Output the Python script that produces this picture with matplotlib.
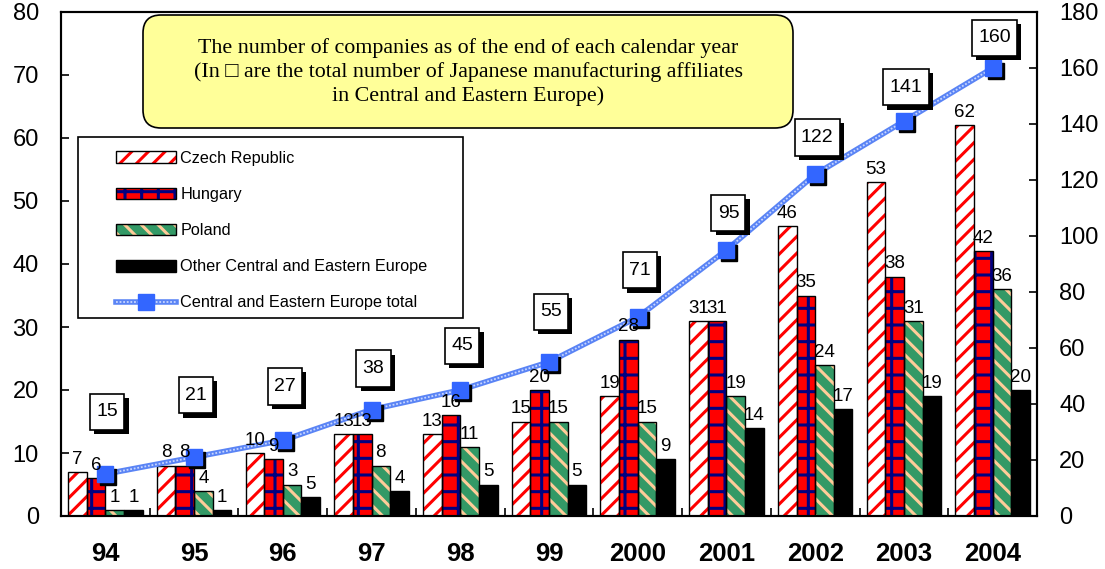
import numpy as np
import matplotlib
matplotlib.use("Agg")
import matplotlib.pyplot as plt
from matplotlib.patches import Patch, FancyBboxPatch, Rectangle
from matplotlib.lines import Line2D
from matplotlib.path import Path
import matplotlib.patheffects as pe
import matplotlib.transforms as mtransforms

# データ（各年末時点の企業数）
years = ["94", "95", "96", "97", "98", "99", "2000", "2001", "2002", "2003", "2004"]
czech = [7, 8, 10, 13, 13, 15, 19, 31, 46, 53, 62]
hungary = [6, 8, 9, 13, 16, 20, 28, 31, 35, 38, 42]
poland = [1, 4, 5, 8, 11, 15, 15, 19, 24, 31, 36]
other = [1, 1, 3, 4, 5, 5, 9, 14, 17, 19, 20]
total = [15, 21, 27, 38, 45, 55, 71, 95, 122, 141, 160]
# 96年は元の図で数値ラベルが入れ替わっている
poland_text = [1, 4, 3, 8, 11, 15, 15, 19, 24, 31, 36]
other_text = [1, 1, 5, 4, 5, 5, 9, 14, 17, 19, 20]

series_names = ["Czech Republic", "Hungary", "Poland",
                "Other Central and Eastern Europe"]
total_name = "Central and Eastern Europe total"
title_lines = ["The number of companies as of the end of each calendar year",
               "(In \u25a1 are the total number of Japanese manufacturing affiliates",
               "in Central and Eastern Europe)"]

# 合計ボックスの位置（マーカーからのずれ、ピクセル）
box_dy = [62, 62, 54, 41, 44, 50, 47, 37, 37, 34, 30]

plt.rcParams["font.family"] = ["Liberation Sans", "DejaVu Sans"]
plt.rcParams["hatch.linewidth"] = 2.2


def tall_box(x0, y0, width, height, mutation_size):
    # 縦長の四角い枠
    px = 0.32 * mutation_size
    py = 0.5 * mutation_size
    return Path([(x0 - px, y0 - py), (x0 + width + px, y0 - py),
                 (x0 + width + px, y0 + height + py), (x0 - px, y0 + height + py),
                 (x0 - px, y0 - py)], closed=True)


W, H = 1105, 569
fig = plt.figure(figsize=(W / 100, H / 100), dpi=100)
ax = fig.add_axes([61 / W, 1 - 516 / H, (1037 - 61) / W, (516 - 12) / H])
ax2 = ax.twinx()

x = np.arange(len(years))
w = 0.21
styles = [
    ("white", "//", "#FF0000"),
    ("#FF0000", "+", "#000080"),
    ("#339966", "\\\\", "#FFCC99"),
    ("black", "", "black"),
]
texts = [czech, hungary, poland_text, other_text]
handles = []
for k, vals in enumerate([czech, hungary, poland, other]):
    face, hatch, hcol = styles[k]
    pos = x + (k - 1.5) * w
    ax.bar(pos, vals, w, color=face, hatch=hatch, edgecolor=hcol, linewidth=0, zorder=2)
    ax.bar(pos, vals, w, facecolor="none", edgecolor="black", linewidth=1.0, zorder=3)
    # 数値ラベルは折れ線より手前に描く
    for px, v, t in zip(pos, vals, texts[k]):
        ax2.annotate(str(t), (px, v), xycoords=ax.transData, xytext=(0, 3),
                     textcoords="offset points", ha="center", va="bottom",
                     fontsize=13.5, zorder=6)
    handles.append((Patch(facecolor=face, hatch=hatch, edgecolor=hcol, linewidth=0),
                    Patch(facecolor="none", edgecolor="black", linewidth=1.0)))

ax.set_xlim(-0.5, 10.5)
ax.set_ylim(0, 80)
ax.set_yticks(range(0, 81, 10))
ax.set_xticks(x)
ax.set_xticklabels(years, fontsize=18.5, fontweight="bold")
ax.set_xticks(np.arange(-0.5, 11, 1), minor=True)
ax.tick_params(axis="x", which="major", length=0, pad=19)
ax.tick_params(axis="x", which="minor", direction="in", length=6, width=1.2)
ax.tick_params(axis="y", direction="in", length=6, width=1.2, labelsize=17, pad=16)
for s in ax.spines.values():
    s.set_linewidth(1.5)

ax2.set_ylim(0, 180)
ax2.set_yticks(range(0, 181, 20))
ax2.tick_params(axis="y", direction="in", length=6, width=1.2, labelsize=17, pad=16)
for s in ax2.spines.values():
    s.set_linewidth(1.5)

# 合計の折れ線（影付きマーカー）
ax2.plot(x, total, color="#5A84F5", lw=4.0, zorder=3, solid_capstyle="butt")
ax2.plot(x, total, color="#C8D6FF", lw=1.3, dashes=(1, 1), zorder=3)
shadow = mtransforms.offset_copy(ax2.transData, fig=fig, x=3, y=-3, units="dots")
ax2.plot(x, total, ls="none", marker="s", ms=11, color="black", transform=shadow, zorder=4)
ax2.plot(x, total, ls="none", marker="s", ms=11, color="#3366FF", zorder=5)

for xi, t, dy in zip(x, total, box_dy):
    ann = ax2.annotate(str(t), (xi, t), xytext=(2, dy), textcoords="offset pixels",
                       ha="center", va="center", fontsize=14, zorder=8,
                       bbox=dict(boxstyle=tall_box, fc="white", ec="black", lw=1.2))
    ann.get_bbox_patch().set_path_effects(
        [pe.SimplePatchShadow(offset=(3, -3), shadow_rgbFace="black", alpha=1.0),
         pe.Normal()])

handles.append((Line2D([], [], color="#5A84F5", lw=4.0),
                Line2D([], [], color="#C8D6FF", lw=1.3, dashes=(1, 1)),
                Line2D([], [], ls="none", marker="s", ms=11, color="#3366FF")))

# 凡例
fig.patches.append(Rectangle((78 / W, 1 - 318 / H), (463 - 78) / W, (318 - 137) / H,
                             transform=fig.transFigure, facecolor="white",
                             edgecolor="black", lw=1.2, zorder=5))
fig.legend(handles, series_names + [total_name], loc="upper left",
           bbox_to_anchor=(116 / W, 1 - 151 / H), frameon=False, borderpad=0,
           borderaxespad=0, fontsize=11.7, handlelength=3.7, handleheight=0.74,
           handletextpad=0.25, labelspacing=1.3)

# タイトルボックス
fig.patches.append(FancyBboxPatch((1.43, 5.69 - 1.28), 6.50, 1.13,
                                  boxstyle="round,pad=0,rounding_size=0.18",
                                  transform=fig.dpi_scale_trans, facecolor="#FFFF99",
                                  edgecolor="black", lw=1.2, zorder=5))
fig.text(468 / W, 1 - 72 / H, "\n".join(title_lines), ha="center", va="center",
         fontsize=15.8, family=["Liberation Serif", "DejaVu Serif"], zorder=6,
         linespacing=1.3)

fig.savefig("out.png", dpi=100)
